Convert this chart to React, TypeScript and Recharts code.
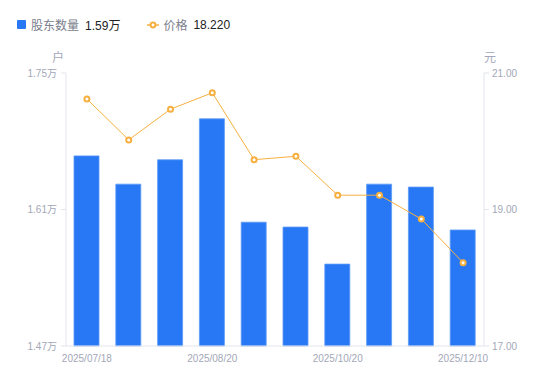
import { Bar, ComposedChart, Line, XAxis, YAxis } from 'recharts'

const dates = [
  '2025/07/18',
  '2025/07/31',
  '2025/08/10',
  '2025/08/20',
  '2025/08/31',
  '2025/09/30',
  '2025/10/20',
  '2025/10/31',
  '2025/11/20',
  '2025/12/10',
]
const holders = [1.665, 1.636, 1.661, 1.703, 1.597, 1.592, 1.554, 1.636, 1.633, 1.589]
const prices = [20.62, 20.02, 20.47, 20.71, 19.73, 19.78, 19.21, 19.21, 18.86, 18.22]
const xTicks = ['2025/07/18', '2025/08/20', '2025/10/20', '2025/12/10']
const leftTicks = [1.47, 1.61, 1.75]
const rightTicks = [17, 19, 21]

const data = dates.map((d, i) => ({ date: d, holders: holders[i], price: prices[i] }))

const FONT = '"Liberation Sans", Arial, "Noto Sans CJK SC", sans-serif'
const BLUE = '#2878f5'
const ORANGE = '#f6b040'
const AXIS = '#e3e5ea'
const TICK = { fontSize: 10, fill: '#a3a7b7', fontFamily: FONT }

export default function App() {
  const last = data[data.length - 1]
  return (
    <div style={{ position: 'absolute', left: 0, top: 0, width: 550, height: 381, fontFamily: FONT, background: '#fff' }}>
      <div style={{ position: 'absolute', left: 17, top: 16, fontSize: 12, display: 'flex', alignItems: 'center', whiteSpace: 'nowrap' }}>
        <span style={{ display: 'inline-block', width: 9, height: 9, background: BLUE, borderRadius: 1, marginRight: 5 }} />
        <span style={{ color: '#7a7e8c' }}>股东数量</span>
        <span style={{ color: '#222', marginLeft: 6 }}>{last.holders.toFixed(2)}万</span>
        <svg width={12} height={8} style={{ marginLeft: 27, marginRight: 4 }}>
          <line x1={0} y1={4} x2={12} y2={4} stroke={ORANGE} strokeWidth={1.5} />
          <circle cx={6} cy={4} r={2.4} fill="#fff" stroke={ORANGE} strokeWidth={2} />
        </svg>
        <span style={{ color: '#7a7e8c' }}>价格</span>
        <span style={{ color: '#222', marginLeft: 6 }}>{last.price.toFixed(3)}</span>
      </div>
      <div style={{ position: 'absolute', left: 52, top: 48, fontSize: 12, color: '#a3a7b7' }}>户</div>
      <div style={{ position: 'absolute', left: 484, top: 48, fontSize: 12, color: '#a3a7b7' }}>元</div>
      <ComposedChart width={550} height={381} data={data} margin={{ top: 73, right: 0, left: 0, bottom: 0 }}>
        <XAxis
          dataKey="date"
          ticks={xTicks}
          interval={0}
          tick={TICK}
          tickLine={false}
          axisLine={{ stroke: AXIS }}
          height={35}
          tickMargin={3}
        />
        <YAxis
          yAxisId="left"
          orientation="left"
          domain={[1.47, 1.75]}
          ticks={leftTicks}
          width={66}
          tick={TICK}
          tickSize={5}
          tickMargin={4}
          tickLine={{ stroke: AXIS }}
          axisLine={{ stroke: AXIS }}
          tickFormatter={(v: number) => `${v.toFixed(2)}万`}
        />
        <YAxis
          yAxisId="right"
          orientation="right"
          domain={[17, 21]}
          ticks={rightTicks}
          width={66}
          tick={TICK}
          tickSize={5}
          tickMargin={3}
          tickLine={{ stroke: AXIS }}
          axisLine={{ stroke: AXIS }}
          tickFormatter={(v: number) => v.toFixed(2)}
        />
        <Bar
          yAxisId="left"
          dataKey="holders"
          fill={BLUE}
          stroke="#5d9af7"
          strokeWidth={0.8}
          barSize={25}
          isAnimationActive={false}
        />
        <Line
          yAxisId="right"
          dataKey="price"
          type="linear"
          stroke={ORANGE}
          strokeWidth={1}
          dot={{ r: 2.5, fill: '#fff', stroke: ORANGE, strokeWidth: 2 }}
          isAnimationActive={false}
        />
      </ComposedChart>
    </div>
  )
}
